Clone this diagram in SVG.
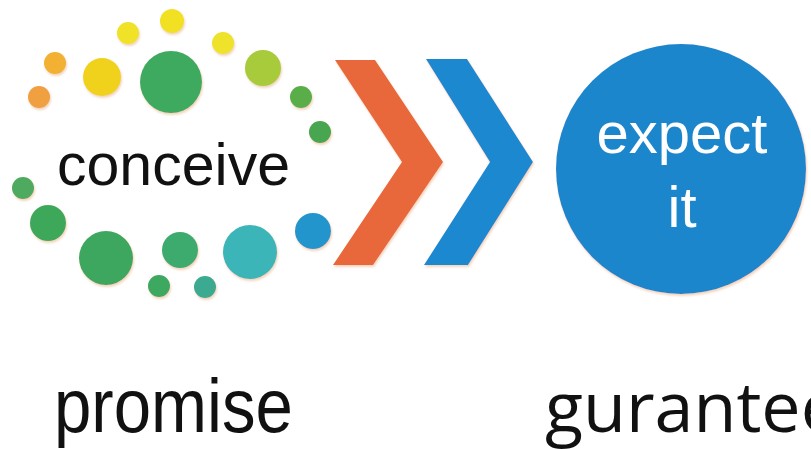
<svg xmlns="http://www.w3.org/2000/svg" width="811" height="449" viewBox="0 0 811 449">
<style>
.lbl{font-family:"Liberation Sans",Arial,sans-serif;fill:#111}
.wt{font-family:"Liberation Sans",Arial,sans-serif;fill:#fff}
.g{font-family:"Open Sans","Noto Sans",sans-serif;fill:#111}
</style>
<defs>
<filter id="sh" x="-10%" y="-10%" width="120%" height="120%">
<feDropShadow dx="1" dy="2" stdDeviation="1" flood-color="#e8b890" flood-opacity="0.6"/>
</filter>
</defs>
<rect width="811" height="449" fill="#fff"/>
<g id="dots" filter="url(#sh)">
<circle cx="172" cy="21" r="12" fill="#F2E020"/>
<circle cx="128" cy="33" r="11" fill="#F0E228"/>
<circle cx="223" cy="43" r="11" fill="#EEE22A"/>
<circle cx="55" cy="63" r="11" fill="#F2B130"/>
<circle cx="102" cy="77" r="19" fill="#F0D21E"/>
<circle cx="171" cy="82" r="31" fill="#3DAA5E"/>
<circle cx="263" cy="68" r="18" fill="#A8CB3A"/>
<circle cx="39" cy="97" r="11" fill="#F0A040"/>
<circle cx="301" cy="97" r="11" fill="#5AAE48"/>
<circle cx="320" cy="132" r="11" fill="#46A650"/>
<circle cx="23" cy="188" r="11" fill="#4EAA5E"/>
<circle cx="48" cy="223" r="18" fill="#3EA85A"/>
<circle cx="106" cy="258" r="27" fill="#3CA65E"/>
<circle cx="180" cy="250" r="18" fill="#3DAA6E"/>
<circle cx="250" cy="252" r="27" fill="#3AB5B8"/>
<circle cx="313" cy="231" r="18" fill="#2295CC"/>
<circle cx="159" cy="286" r="11" fill="#3EA860"/>
<circle cx="205" cy="287" r="11" fill="#3AAA90"/>
</g>
<g id="conceive">
<text class="lbl" x="57" y="185" font-size="59" textLength="233" lengthAdjust="spacingAndGlyphs">conceive</text>
</g>
<g id="connectors">
<polygon filter="url(#sh)" points="335,60 375,60 443,162 373,265 333,265 402,162" fill="#E8673A"/>
<polygon filter="url(#sh)" points="426,59 467,59 533,162 468,265 424,265 490,162" fill="#1E88D0"/>
</g>
<g id="expect">
<circle cx="681" cy="169" r="125" fill="#1C86CC" filter="url(#sh)"/>
<text class="wt" x="682" y="153" font-size="58" text-anchor="middle">expect</text>
<text class="wt" x="682" y="227" font-size="58" text-anchor="middle">it</text>
</g>
<g id="promise">
<text class="lbl" x="54" y="432" font-size="76" textLength="239" lengthAdjust="spacingAndGlyphs">promise</text>
</g>
<g id="gurantee">
<text class="g" x="545" y="432" font-size="70" textLength="295" lengthAdjust="spacingAndGlyphs">gurantee</text>
</g>
</svg>
